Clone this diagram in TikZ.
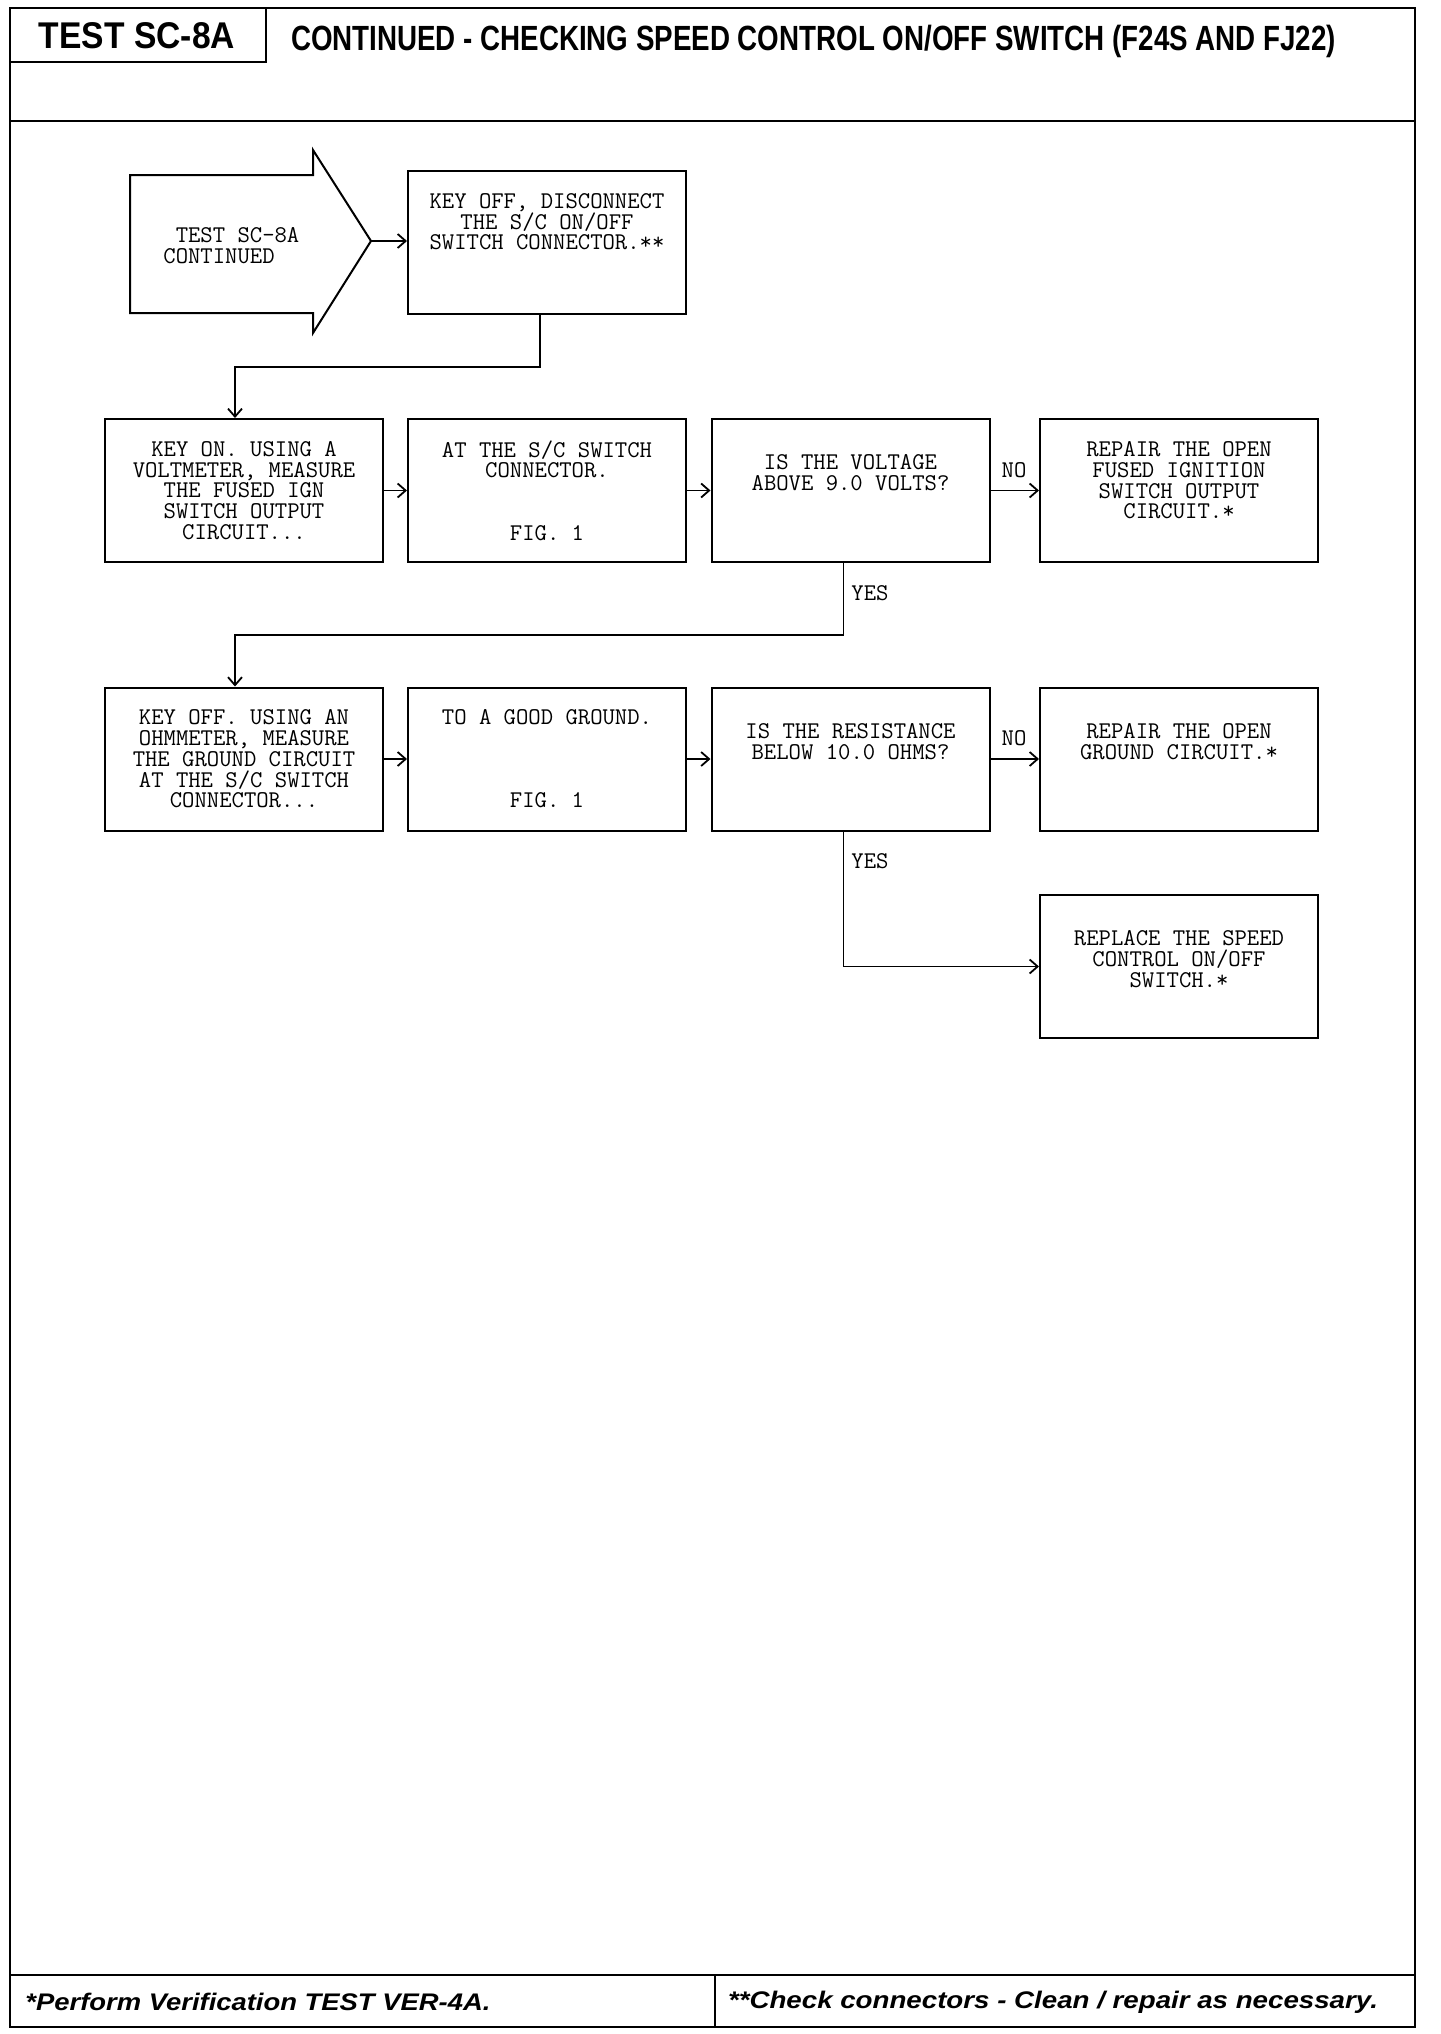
\documentclass[tikz,border=0pt]{standalone}
\usepackage{fontspec}
\usepackage{graphicx}
\setmainfont{Liberation Sans}
\newfontfamily\cour{Latin Modern Mono}
\usetikzlibrary{arrows.meta}
\begin{document}
\begin{tikzpicture}[x=0.5pt,y=-0.5pt,
  box/.style={draw, line width=1pt, minimum width=139pt, minimum height=71.5pt,
    inner sep=0pt, align=center, font=\cour\fontsize{12}{10.4}\selectfont},
  lbl/.style={inner sep=0pt, font=\cour\fontsize{12}{10.4}\selectfont},
  arr/.style={-{Straight Barb[length=4pt,width=7pt]}, line width=0.9pt},
  frame/.style={line width=1.3pt}]
\fill[white] (0,0) rectangle (1440,2034);
\useasboundingbox (0,0) rectangle (1440,2034);

% page frame
\draw[frame] (10,8) rectangle (1415,2027);
\draw[frame] (10,8) rectangle (266,62);
\draw[frame] (10,121) -- (1415,121);
\draw[frame] (10,1975) -- (1415,1975);
\draw[frame] (715,1975) -- (715,2027);

\node[inner sep=0pt] (title) at (137,36) {\resizebox{98pt}{\height}{\fontsize{18.6}{20}\selectfont\bfseries TEST SC-8A}};
\node[inner sep=0pt] (head) at (813.5,41) {\resizebox{522.5pt}{\height}{\fontsize{17.5}{19}\selectfont\bfseries CONTINUED - CHECKING SPEED CONTROL ON/OFF SWITCH (F24S AND FJ22)}};
\node[inner sep=0pt] (foot1) at (258,2002) {\resizebox{232.5pt}{\height}{\fontsize{12}{14}\selectfont\bfseries\itshape *Perform Verification TEST VER-4A.}};
\node[inner sep=0pt] (foot2) at (1053,2002) {\resizebox{325pt}{\height}{\fontsize{12}{14}\selectfont\bfseries\itshape **Check connectors - Clean / repair as necessary.}};

% start arrow shape
\draw[line width=1pt] (130,175) -- (313,175) -- (313,150) -- (371,241) -- (313,333) -- (313,313) -- (130,313) -- cycle;
\coordinate (tip) at (371,241);
\node[lbl, align=left, anchor=west] (start) at (163,246) {~TEST SC-8A\\CONTINUED};

% boxes
\node[box] (k1) at (547,242.5) {KEY OFF, DISCONNECT\\THE S/C ON/OFF\\SWITCH CONNECTOR.**\\~\\~};

\node[box] (a2) at (244,490.5) {KEY ON. USING A\\VOLTMETER, MEASURE\\THE FUSED IGN\\SWITCH OUTPUT\\CIRCUIT...};
\node[box] (b2) at (547,490.5) {AT THE S/C SWITCH\\CONNECTOR.\\~\\~\\FIG. 1};
\node[box] (c2) at (850.5,490.5) {~\\IS THE VOLTAGE\\ABOVE 9.0 VOLTS?\\~\\~};
\node[box] (d2) at (1179,490.5) {REPAIR THE OPEN\\FUSED IGNITION\\SWITCH OUTPUT\\CIRCUIT.*\\~};

\node[box] (a3) at (244,759) {KEY OFF. USING AN\\OHMMETER, MEASURE\\THE GROUND CIRCUIT\\AT THE S/C SWITCH\\CONNECTOR...};
\node[box] (b3) at (547,759) {TO A GOOD GROUND.\\~\\~\\~\\FIG. 1};
\node[box] (c3) at (850.5,759) {~\\IS THE RESISTANCE\\BELOW 10.0 OHMS?\\~\\~};
\node[box] (d3) at (1179,759) {~\\REPAIR THE OPEN\\GROUND CIRCUIT.*\\~\\~};

\node[box] (e) at (1179,966.5) {~\\REPLACE THE SPEED\\CONTROL ON/OFF\\SWITCH.*\\~};

% connectors
\draw[arr] (tip) -- (tip -| k1.west);
\draw[arr] ([xshift=-3.5pt]k1.south) -- ++(0,52) -| ([xshift=-4.5pt]a2.north);
\draw[arr] (a2.east) -- (b2.west);
\draw[arr] (b2.east) -- (c2.west);
\draw[arr] (c2.east) -- (d2.west);
\node[lbl] (no1) at (1014,470) {NO};
\draw[arr] ([xshift=-3.5pt]c2.south) -- ++(0,72) -| ([xshift=-4.5pt]a3.north);
\node[lbl, anchor=west] (yes1) at (851,593) {YES};

\draw[arr] (a3.east) -- (b3.west);
\draw[arr] (b3.east) -- (c3.west);
\draw[arr] (c3.east) -- (d3.west);
\node[lbl] (no2) at (1014,738) {NO};
\draw[arr] ([xshift=-3.5pt]c3.south) |- (e.west);
\node[lbl, anchor=west] (yes2) at (851,861) {YES};
\end{tikzpicture}
\end{document}
